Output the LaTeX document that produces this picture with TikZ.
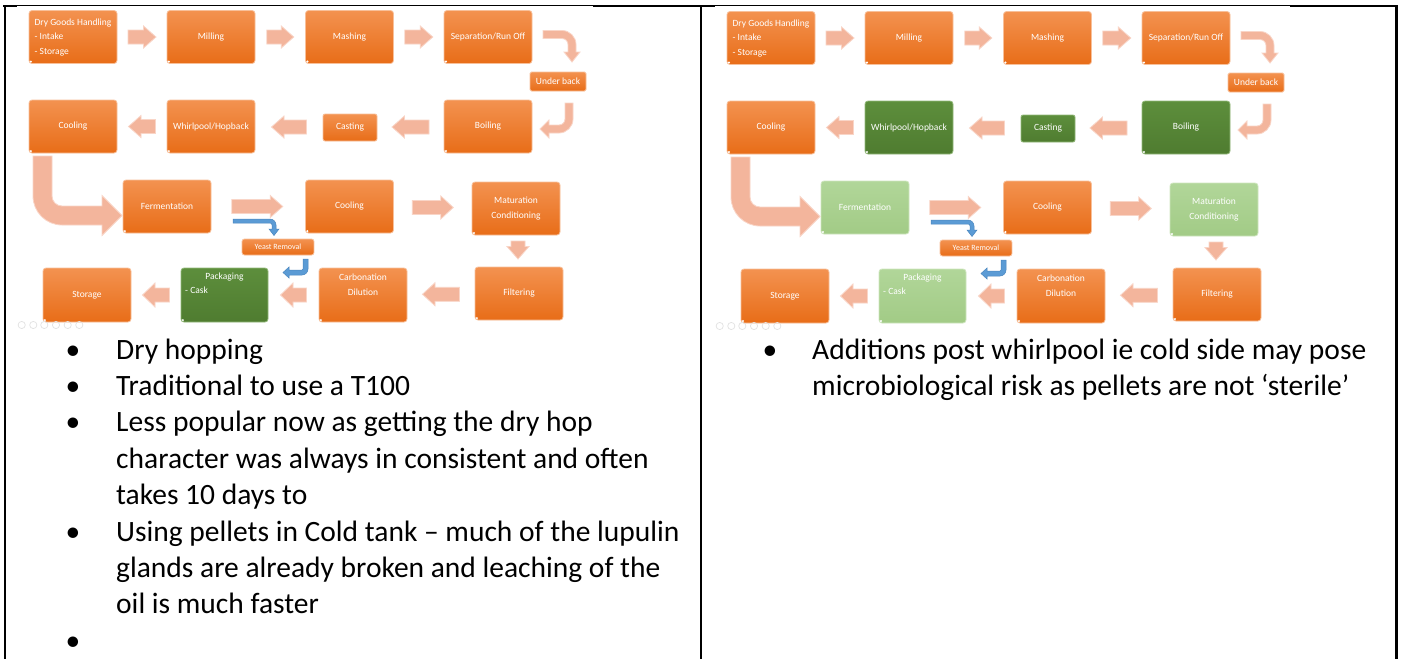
\documentclass[tikz,border=0pt]{standalone}
\usepackage{fontspec}
\setmainfont{Carlito}
\usetikzlibrary{calc}

\definecolor{orTop}{HTML}{F39250}
\definecolor{orBot}{HTML}{E86D18}
\definecolor{orEdge}{HTML}{F8C09A}
\definecolor{dgTop}{HTML}{5D8E3C}
\definecolor{dgBot}{HTML}{4F7C30}
\definecolor{dgEdge}{HTML}{93B97A}
\definecolor{lgTop}{HTML}{B1D699}
\definecolor{lgBot}{HTML}{A2CB86}
\definecolor{lgEdge}{HTML}{CFE6BF}
\definecolor{pinkFill}{HTML}{F3B59C}
\definecolor{pinkEdge}{HTML}{F9D5C7}
\definecolor{blueFill}{HTML}{5B9BD5}
\definecolor{blueEdge}{HTML}{4A86BE}
\definecolor{ctrlGrey}{HTML}{E2E2E2}

\tikzset{
  stage/.style={rounded corners=3, line width=0.8, inner sep=0,
    minimum width=88, minimum height=53, text=white,
    font=\fontsize{9.5}{14.6}\selectfont, align=center},
  stagelabel/.style={inner sep=0, text=white, font=\fontsize{9.5}{14.6}\selectfont},
  orangebox/.style={top color=orTop, bottom color=orBot, draw=orEdge},
  darkbox/.style={top color=dgTop, bottom color=dgBot, draw=dgEdge},
  lightbox/.style={top color=lgTop, bottom color=lgBot, draw=lgEdge},
  pinkarrow/.style={fill=pinkFill, draw=pinkEdge, line width=0.8},
  bluearrow/.style={fill=blueFill, draw=blueEdge, line width=0.5},
  ctrl/.style={draw=ctrlGrey, line width=0.7},
  bodytext/.style={font=\fontsize{29.5}{36.4}\selectfont, inner sep=0, anchor=base west},
  listmark/.style={font=\fontsize{29.5}{36.4}\selectfont, inner sep=0, anchor=base},
}

% straight block arrow: centre, rotation, length, head width
\newcommand\barrow[4]{%
  \begin{scope}[shift={(#1)}, rotate=#2]
    \path[pinkarrow] (-#3/2,-7) -- (#3/2-12.5,-7) -- (#3/2-12.5,-#4/2) -- (#3/2,0)
      -- (#3/2-12.5,#4/2) -- (#3/2-12.5,7) -- (-#3/2,7) -- cycle;
  \end{scope}}

% small highlight in the lower left corner of a stage box
\newcommand\stagedot[1]{\fill[white] ($(#1.south west)+(2.3,-2.3)$) circle (1.2);}

% brewing flow chart; #1 name prefix, #2..#7 styles of
% whirlpool, casting, boiling, fermentation, maturation, packaging
\newcommand\flowchart[7]{%
  \begin{scope}[shift={(\ox,\oy)}]
    % first row
    \node[stage, orangebox] (#1dgh) at (73,37) {};
    \node[stagelabel, align=left] (#1dghT) at (73,37.5)
      {Dry Goods Handling\\- Intake\\- Storage};
    \node[stage, orangebox] (#1mill) at (211,37) {Milling};
    \node[stage, orangebox] (#1mash) at (349.5,37) {Mashing};
    \node[stage, orangebox] (#1sep) at (488,37) {Separation/Run Off};
    \node[stage, orangebox, rounded corners=1.5, minimum width=56, minimum height=19]
      (#1under) at (558,81.5) {Under back};
    % second row
    \node[stage, #4] (#1boil) at (488,126.5) {Boiling};
    \node[stage, #3, rounded corners=2, minimum width=54, minimum height=27]
      (#1cast) at (350,127.5) {Casting};
    \node[stage, #2] (#1whirl) at (211,126.5) {Whirlpool/Hopback};
    \node[stage, orangebox] (#1coolA) at (73,126.5) {Cooling};
    % third row
    \node[stage, #5] (#1ferm) at (167,206.5) {Fermentation};
    \node[stage, orangebox, rounded corners=2.5, minimum width=72, minimum height=16,
      font=\fontsize{8}{10}\selectfont] (#1yeast) at (278,247) {Yeast Removal};
    \node[stage, orangebox] (#1coolB) at (349.5,206.5) {Cooling};
    \node[stage, #6] (#1mat) at (516,208.5) {Maturation\\Conditioning};
    % fourth row
    \node[stage, orangebox] (#1filt) at (519,293.5) {Filtering};
    \node[stage, orangebox, minimum height=54] (#1carb) at (363,295) {};
    \node[stagelabel] (#1carbA) at (363,277.7) {Carbonation};
    \node[stagelabel] (#1carbB) at (363,292.3) {Dilution};
    \node[stage, #7, minimum width=87, minimum height=54] (#1pack) at (224.5,295) {};
    \node[stagelabel] (#1packA) at (224.5,276.7) {Packaging};
    \node[stagelabel, anchor=west] (#1packB) at (185,290) {- Cask};
    \node[stage, orangebox, minimum height=54] (#1stor) at (87,295) {Storage};
    % bent arrows
    \path[pinkarrow] (543,30.5) -- (562,30.5) .. controls (569.7,30.5) and (576,36.8) .. (576,44.5)
      -- (576,52) -- (580,52) -- (572,62) -- (564,52) -- (568,52) -- (568,44.5)
      .. controls (568,41.2) and (565.3,38.5) .. (562,38.5) -- (543,38.5) -- cycle;
    \path[pinkarrow] (565,103) -- (573,103) -- (573,119) .. controls (573,126.7) and (566.7,133) .. (559,133)
      -- (549,133) -- (549,138) -- (540,129) -- (549,120) -- (549,125) -- (559,125)
      .. controls (562.3,125) and (565,122.3) .. (565,119) -- cycle;
    \path[pinkarrow] (33,156) -- (33,196) .. controls (33,212) and (46,225) .. (62,225)
      -- (102,225) -- (102,235.5) -- (122,215.5) -- (102,195.5) -- (102,206) -- (62,206)
      .. controls (56.5,206) and (52,201.5) .. (52,196) -- (52,156) -- cycle;
    \path[bluearrow] (233,219) -- (270,219) .. controls (273.3,219) and (276,221.7) .. (276,225)
      -- (276,229) -- (279,229) -- (274,235.5) -- (269,229) -- (272,229) -- (272,225)
      .. controls (272,223.9) and (271.1,223) .. (270,223) -- (233,223) -- cycle;
    \path[bluearrow] (303,259) -- (308,259) -- (308,269) .. controls (308,272.3) and (305.3,275) .. (302,275)
      -- (289,275) -- (289,278) -- (283,272.5) -- (289,267) -- (289,270) -- (302,270)
      .. controls (302.6,270) and (303,269.6) .. (303,269) -- cycle;
    % slide show controls
    \foreach \cx in {21.7,33.3,44.3,56,67.7,79.3}{\draw[ctrl] (\cx,325) circle (3.6);}
  \end{scope}
  % straight arrows between stages
  \barrow{$(#1dgh.east)!.5!(#1mill.west)$}{0}{28}{22}
  \barrow{$(#1mill.east)!.5!(#1mash.west)$}{0}{27}{22}
  \barrow{$(#1mash.east)!.5!(#1sep.west)$}{0}{28}{22}
  \barrow{$(#1cast.east)!.5!(#1boil.west)$}{180}{37}{22}
  \barrow{$(#1whirl.east)!.5!(#1cast.west)$}{180}{35}{22}
  \barrow{$(#1coolA.east)!.5!(#1whirl.west)$}{180}{27}{22}
  \barrow{$(#1ferm.east)!.5!(#1coolB.west)+(-1,0)$}{0}{51}{22}
  \barrow{$(#1coolB.east)!.5!(#1mat.west)$}{0}{41}{23}
  \barrow{$(#1mat.south)!.5!(#1filt.north)+(0.5,-1)$}{-90}{18}{22}
  \barrow{$(#1carb.east)!.5!(#1filt.west)$}{180}{37}{23}
  \barrow{$(#1pack.east)!.5!(#1carb.west)$}{180}{26}{24}
  \barrow{$(#1stor.east)!.5!(#1pack.west)$}{180}{27}{24}
  % corner highlights
  \foreach \b in {dgh,mill,mash,sep,boil,whirl,coolA,ferm,coolB,mat,filt,carb,pack,stor}{\stagedot{#1\b}}
}

\begin{document}
\begin{tikzpicture}[x=1pt, y=-1pt]
  \useasboundingbox[fill=white] (0,0) rectangle (1403,659);

  % table frame
  \draw[line width=1.2] (3,5.5) -- (1398,5.5);
  \draw[line width=2.6] (3,6) -- (17,6) (593,6) -- (715,6) (1290,6) -- (1398,6);
  \draw[line width=2] (4.5,5) -- (4.5,659);
  \draw[line width=1.6] (701,5) -- (701,659);
  \draw[line width=2.6] (1396.5,5) -- (1396.5,659);

  % left cell chart
  \def\ox{0}\def\oy{0}
  \flowchart{L}{orangebox}{orangebox}{orangebox}{orangebox}{orangebox}{darkbox}

  % right cell chart
  \def\ox{698}\def\oy{1}
  \flowchart{R}{darkbox}{darkbox}{darkbox}{lightbox}{lightbox}{lightbox}

  % left cell notes
  \node[listmark] (lb1) at (73,359) {•};
  \node[listmark] (lb2) at (73,395.4) {•};
  \node[listmark] (lb3) at (73,431.8) {•};
  \node[listmark] (lb4) at (73,541) {•};
  \node[listmark] (lb5) at (73,650.2) {•};
  \node[bodytext] (lt1) at (116,359) {Dry hopping};
  \node[bodytext] (lt2) at (116,395.4) {Traditional to use a T100};
  \node[bodytext] (lt3) at (116,431.8) {Less popular now as getting the dry hop};
  \node[bodytext] (lt4) at (116,468.2) {character was always in consistent and often};
  \node[bodytext] (lt5) at (116,504.6) {takes 10 days to};
  \node[bodytext] (lt6) at (116,541) {Using pellets in Cold tank – much of the lupulin};
  \node[bodytext] (lt7) at (116,577.4) {glands are already broken and leaching of the};
  \node[bodytext] (lt8) at (116,613.8) {oil is much faster};

  % right cell notes
  \node[listmark] (rb1) at (770,359) {•};
  \node[bodytext] (rt1) at (812,359) {Additions post whirlpool ie cold side may pose};
  \node[bodytext] (rt2) at (812,395.4) {microbiological risk as pellets are not ‘sterile’};
\end{tikzpicture}
\end{document}
